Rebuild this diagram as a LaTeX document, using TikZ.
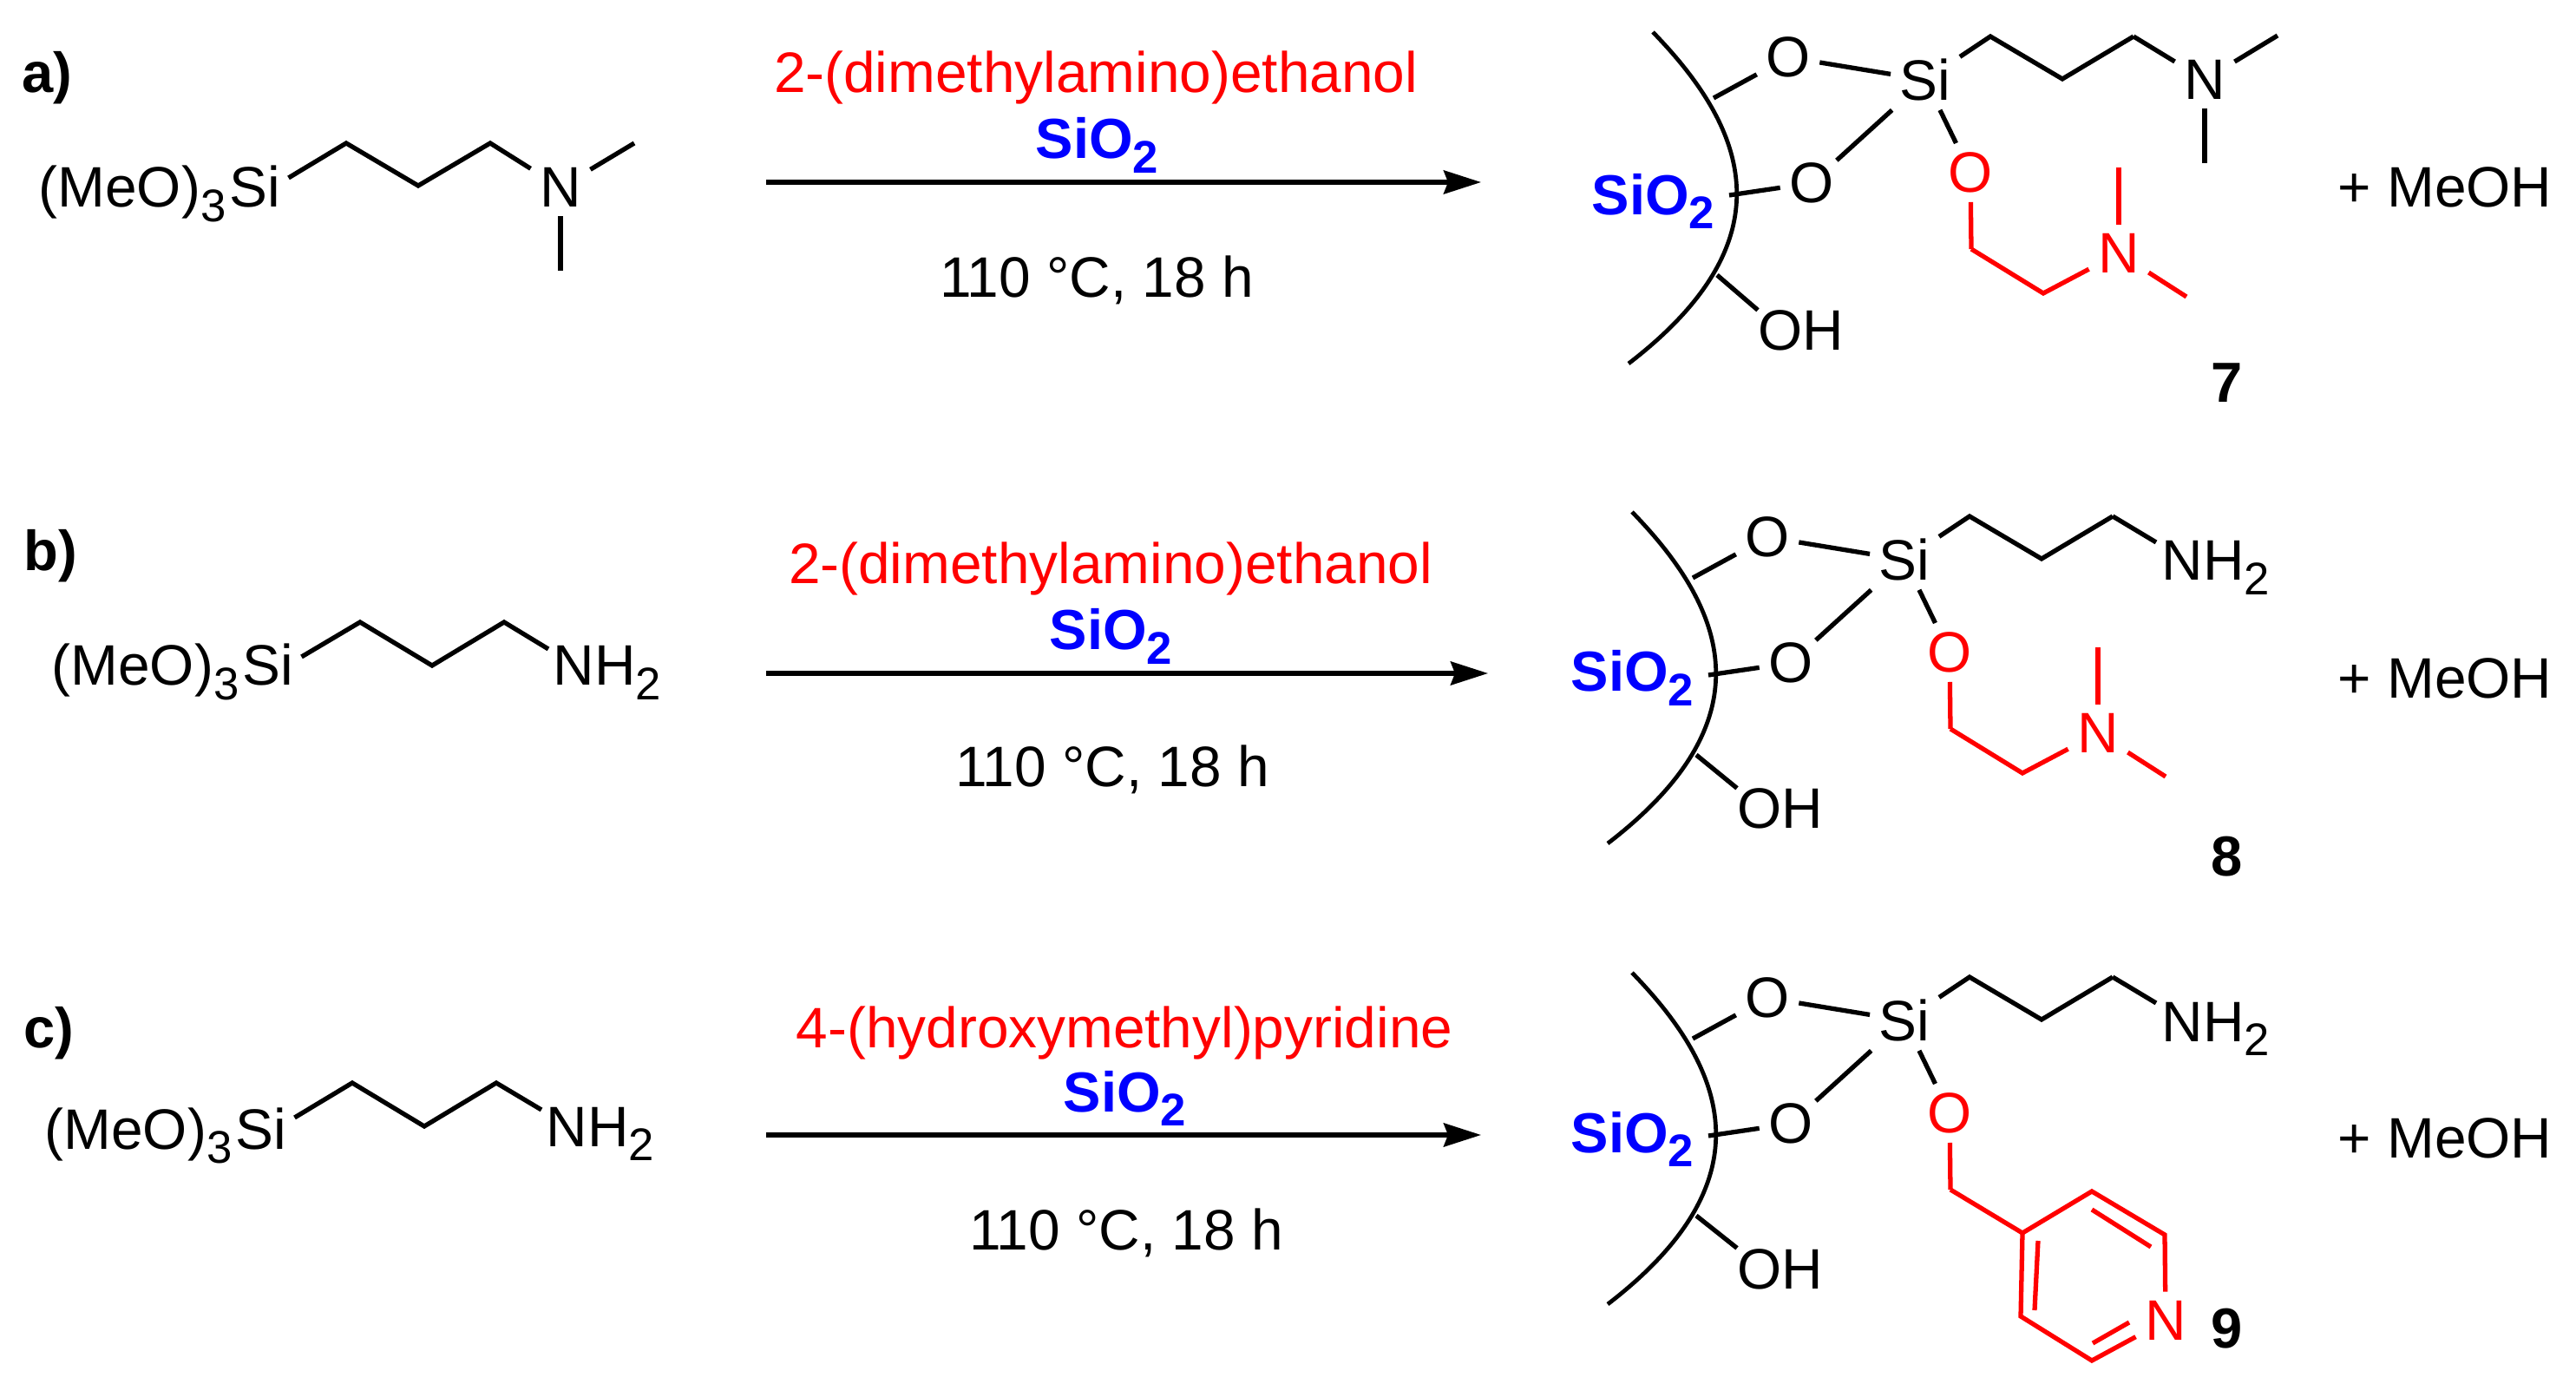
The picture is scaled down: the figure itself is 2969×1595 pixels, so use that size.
\documentclass[tikz,border=0pt]{standalone}
\usepackage{fontspec}
\setmainfont{Liberation Sans}
\usetikzlibrary{arrows.meta}
\newcommand{\chemsub}[1]{\raisebox{-.16cm}{\fontsize{15pt}{15pt}\selectfont #1}}
\tikzset{
    txt/.style={
           font=\fontsize{18.7pt}{22pt}\selectfont,
           inner sep=0pt,
           },
    boldtxt/.style={
           font=\fontsize{18.5pt}{22pt}\selectfont\bfseries,
           inner sep=0pt,
           },
    atom/.style={
           txt,
           inner xsep=.1cm,
           inner ysep=.1cm,
           },
    bond/.style={line width=1.5pt},
    surface/.style={line width=1.35pt},
    rxnarrow/.style={
           line width=1.5pt,
           -{Stealth[length=.43cm,width=.27cm,inset=.05cm]},
           },
}
\begin{document}
\begin{tikzpicture}[x=.01cm,y=-.01cm]
 \useasboundingbox (0,0) rectangle (2969,1595);

 % panel letters
 \node[boldtxt,anchor=base west] (LBLa) at (25,107) {a)};
 \node[boldtxt,anchor=base west] (LBLb) at (27,658) {b)};
 \node[boldtxt,anchor=base west] (LBLc) at (27,1208) {c)};

 % left molecules, the silane text
 \node[txt,inner xsep=.09cm,anchor=base west] (MEa) at (35,239) {(MeO)\chemsub{3}\kern.04cm Si};
 \node[txt,inner xsep=.09cm,anchor=base west] (MEb) at (50,790) {(MeO)\chemsub{3}\kern.04cm Si};
 \node[txt,inner xsep=.09cm,anchor=base west] (MEc) at (42,1324) {(MeO)\chemsub{3}\kern.04cm Si};

 % left molecule a: amine with two methyls
 \coordinate (Aa1) at (399,165);
 \coordinate (Aa2) at (482,214);
 \coordinate (Aa3) at (565,165);
 \node[atom] (Na) at (646,216) {N};
 \coordinate (Ma1) at (731,165);
 \coordinate (Ma2) at (646,312);
 \draw[bond] ([yshift=.34cm]MEa.base east) -- (Aa1) -- (Aa2) -- (Aa3) -- (Na);
 \draw[bond] (Na) -- (Ma1);
 \draw[bond] (Na) -- (Ma2);

 % left molecules b and c: primary amine
 \node[txt,inner xsep=.1cm,anchor=base west] (NHb) at (627,790) {NH\chemsub{2}};
 \node[txt,inner xsep=.1cm,anchor=base west] (NHc) at (619,1321) {NH\chemsub{2}};
 \coordinate (Ab1) at (415,717);
 \coordinate (Ab2) at (498,767);
 \coordinate (Ab3) at (581,717);
 \coordinate (Ac1) at (406,1248);
 \coordinate (Ac2) at (489,1298);
 \coordinate (Ac3) at (572,1248);
 \draw[bond] ([yshift=.33cm]MEb.base east) -- (Ab1) -- (Ab2) -- (Ab3) -- ([xshift=.05cm,yshift=.42cm]NHb.base west);
 \draw[bond] ([yshift=.36cm]MEc.base east) -- (Ac1) -- (Ac2) -- (Ac3) -- ([xshift=.05cm,yshift=.42cm]NHc.base west);

 % reaction arrows with what is written on them
 \foreach \p/\rx/\ry/\sx/\sy/\ay/\ax/\tx/\ty/\reagent in {
   a/1263/107/1193/183/210/1707/1264/343/2-(dimethylamino)ethanol,
   b/1280/673/1209/749/776/1715/1282/907/2-(dimethylamino)ethanol,
   c/1296/1208/1225/1281/1308/1707/1298/1440/4-(hydroxymethyl)pyridine}
 {
  \node[txt,text=red,anchor=base] (REAG\p) at (\rx,\ry) {\reagent};
  \node[boldtxt,text=blue,anchor=base west] (CAT\p) at (\sx,\sy) {SiO\chemsub{2}};
  \node[txt,anchor=base] (COND\p) at (\tx,\ty) {110 °C, 18 h};
  \coordinate (ARs\p) at (883,\ay);
  \coordinate (ARe\p) at (\ax,\ay);
  \draw[rxnarrow] (ARs\p) -- (ARe\p);
 }

 % silica surface with the silane on it, same in all three panels
 \foreach \p/\dx/\dy/\sy/\oy in {a/0/0/248/404,b/-24/553/244/402,c/-24/1084/244/401}
 {
 \begin{scope}[shift={(\dx,\dy)}]
  \draw[surface] (1905,37) .. controls (2015,150) and (2062,277) .. (1877,419);
  \coordinate (SFa\p) at (1975,113);
  \coordinate (SFb\p) at (1993,225);
  \coordinate (SFc\p) at (1979,317);
  \node[atom] (SI\p) at (2219,92) {Si};
  \node[atom] (OA\p) at (2061,66) {O};
  \node[atom] (OB\p) at (2088,211) {O};
  \node[txt,anchor=base west] (OH\p) at (2026,\oy) {OH};
  \node[boldtxt,text=blue,anchor=base west] (SUP\p) at (1834,\sy) {SiO\chemsub{2}};
  \node[atom,text=red] (OC\p) at (2271,199) {O};
  \coordinate (CHa\p) at (2294,42);
  \coordinate (CHb\p) at (2377,91);
  \coordinate (CHc\p) at (2459,42);
  \coordinate (RCa\p) at (2272,287);
  \draw[bond] (SFa\p) -- (OA\p);
  \draw[bond] (OA\p) -- (SI\p);
  \draw[bond] (SFb\p) -- (OB\p);
  \draw[bond,shorten <=-.1cm] (OB\p) -- (SI\p);
  \draw[bond] (SFc\p) -- (OH\p.north west);
  \draw[bond] (SI\p) -- (OC\p);
  \draw[bond] (SI\p) -- (CHa\p) -- (CHb\p) -- (CHc\p);
  \draw[bond,red] (OC\p) -- (RCa\p);
 \end{scope}
 }

 % red dimethylaminoethoxy group in panels a and b
 \foreach \p/\dx/\dy in {a/0/0,b/-24/553}
 {
 \begin{scope}[shift={(\dx,\dy)}]
  \node[atom,text=red] (RN\p) at (2442,292) {N};
  \coordinate (RCb\p) at (2355,338);
  \coordinate (RMa\p) at (2442,193);
  \coordinate (RMb\p) at (2520,342);
  \draw[bond,red] (RCa\p) -- (RCb\p) -- (RN\p);
  \draw[bond,red] (RN\p) -- (RMa\p);
  \draw[bond,red] (RN\p) -- (RMb\p);
 \end{scope}
 }

 % end of the chain: tertiary amine in a, NH2 in b and c
 \node[atom] (Pa) at (2541,92) {N};
 \coordinate (PMa) at (2625,41);
 \coordinate (PMb) at (2541,188);
 \draw[bond] (CHca) -- (Pa);
 \draw[bond] (Pa) -- (PMa);
 \draw[bond] (Pa) -- (PMb);
 \node[txt,inner xsep=.11cm,anchor=base west] (PNHb) at (2480,669) {NH\chemsub{2}};
 \node[txt,inner xsep=.11cm,anchor=base west] (PNHc) at (2480,1200) {NH\chemsub{2}};
 \draw[bond] (CHcb) -- ([xshift=.05cm,yshift=.44cm]PNHb.base west);
 \draw[bond] (CHcc) -- ([xshift=.05cm,yshift=.44cm]PNHc.base west);

 % pyridine ring of panel c
 \node[atom,text=red] (PYN) at (2496,1522) {N};
 \coordinate (PYa) at (2331,1421);
 \coordinate (PYb) at (2411,1373);
 \coordinate (PYc) at (2495,1423);
 \coordinate (PYd) at (2411,1568);
 \coordinate (PYe) at (2329,1517);
 \coordinate (DBa) at (2411,1394);
 \coordinate (DBb) at (2479,1437);
 \coordinate (DBc) at (2349,1430);
 \coordinate (DBd) at (2345,1510);
 \coordinate (DBe) at (2412,1548);
 \coordinate (DBf) at (2454,1524);
 \draw[bond,red] (RCac) -- (PYa) -- (PYb) -- (PYc) -- (PYN);
 \draw[bond,red] (PYN) -- (PYd) -- (PYe) -- (PYa);
 \draw[bond,red] (DBa) -- (DBb);
 \draw[bond,red] (DBc) -- (DBd);
 \draw[bond,red] (DBe) -- (DBf);

 % by-product and compound numbers
 \node[txt,anchor=base west] (MOHa) at (2694,239) {+ MeOH};
 \node[txt,anchor=base west] (MOHb) at (2694,805) {+ MeOH};
 \node[txt,anchor=base west] (MOHc) at (2694,1334) {+ MeOH};
 \node[boldtxt,anchor=base] (NUMa) at (2567,464) {7};
 \node[boldtxt,anchor=base] (NUMb) at (2567,1010) {8};
 \node[boldtxt,anchor=base] (NUMc) at (2567,1553) {9};
\end{tikzpicture}
\end{document}
